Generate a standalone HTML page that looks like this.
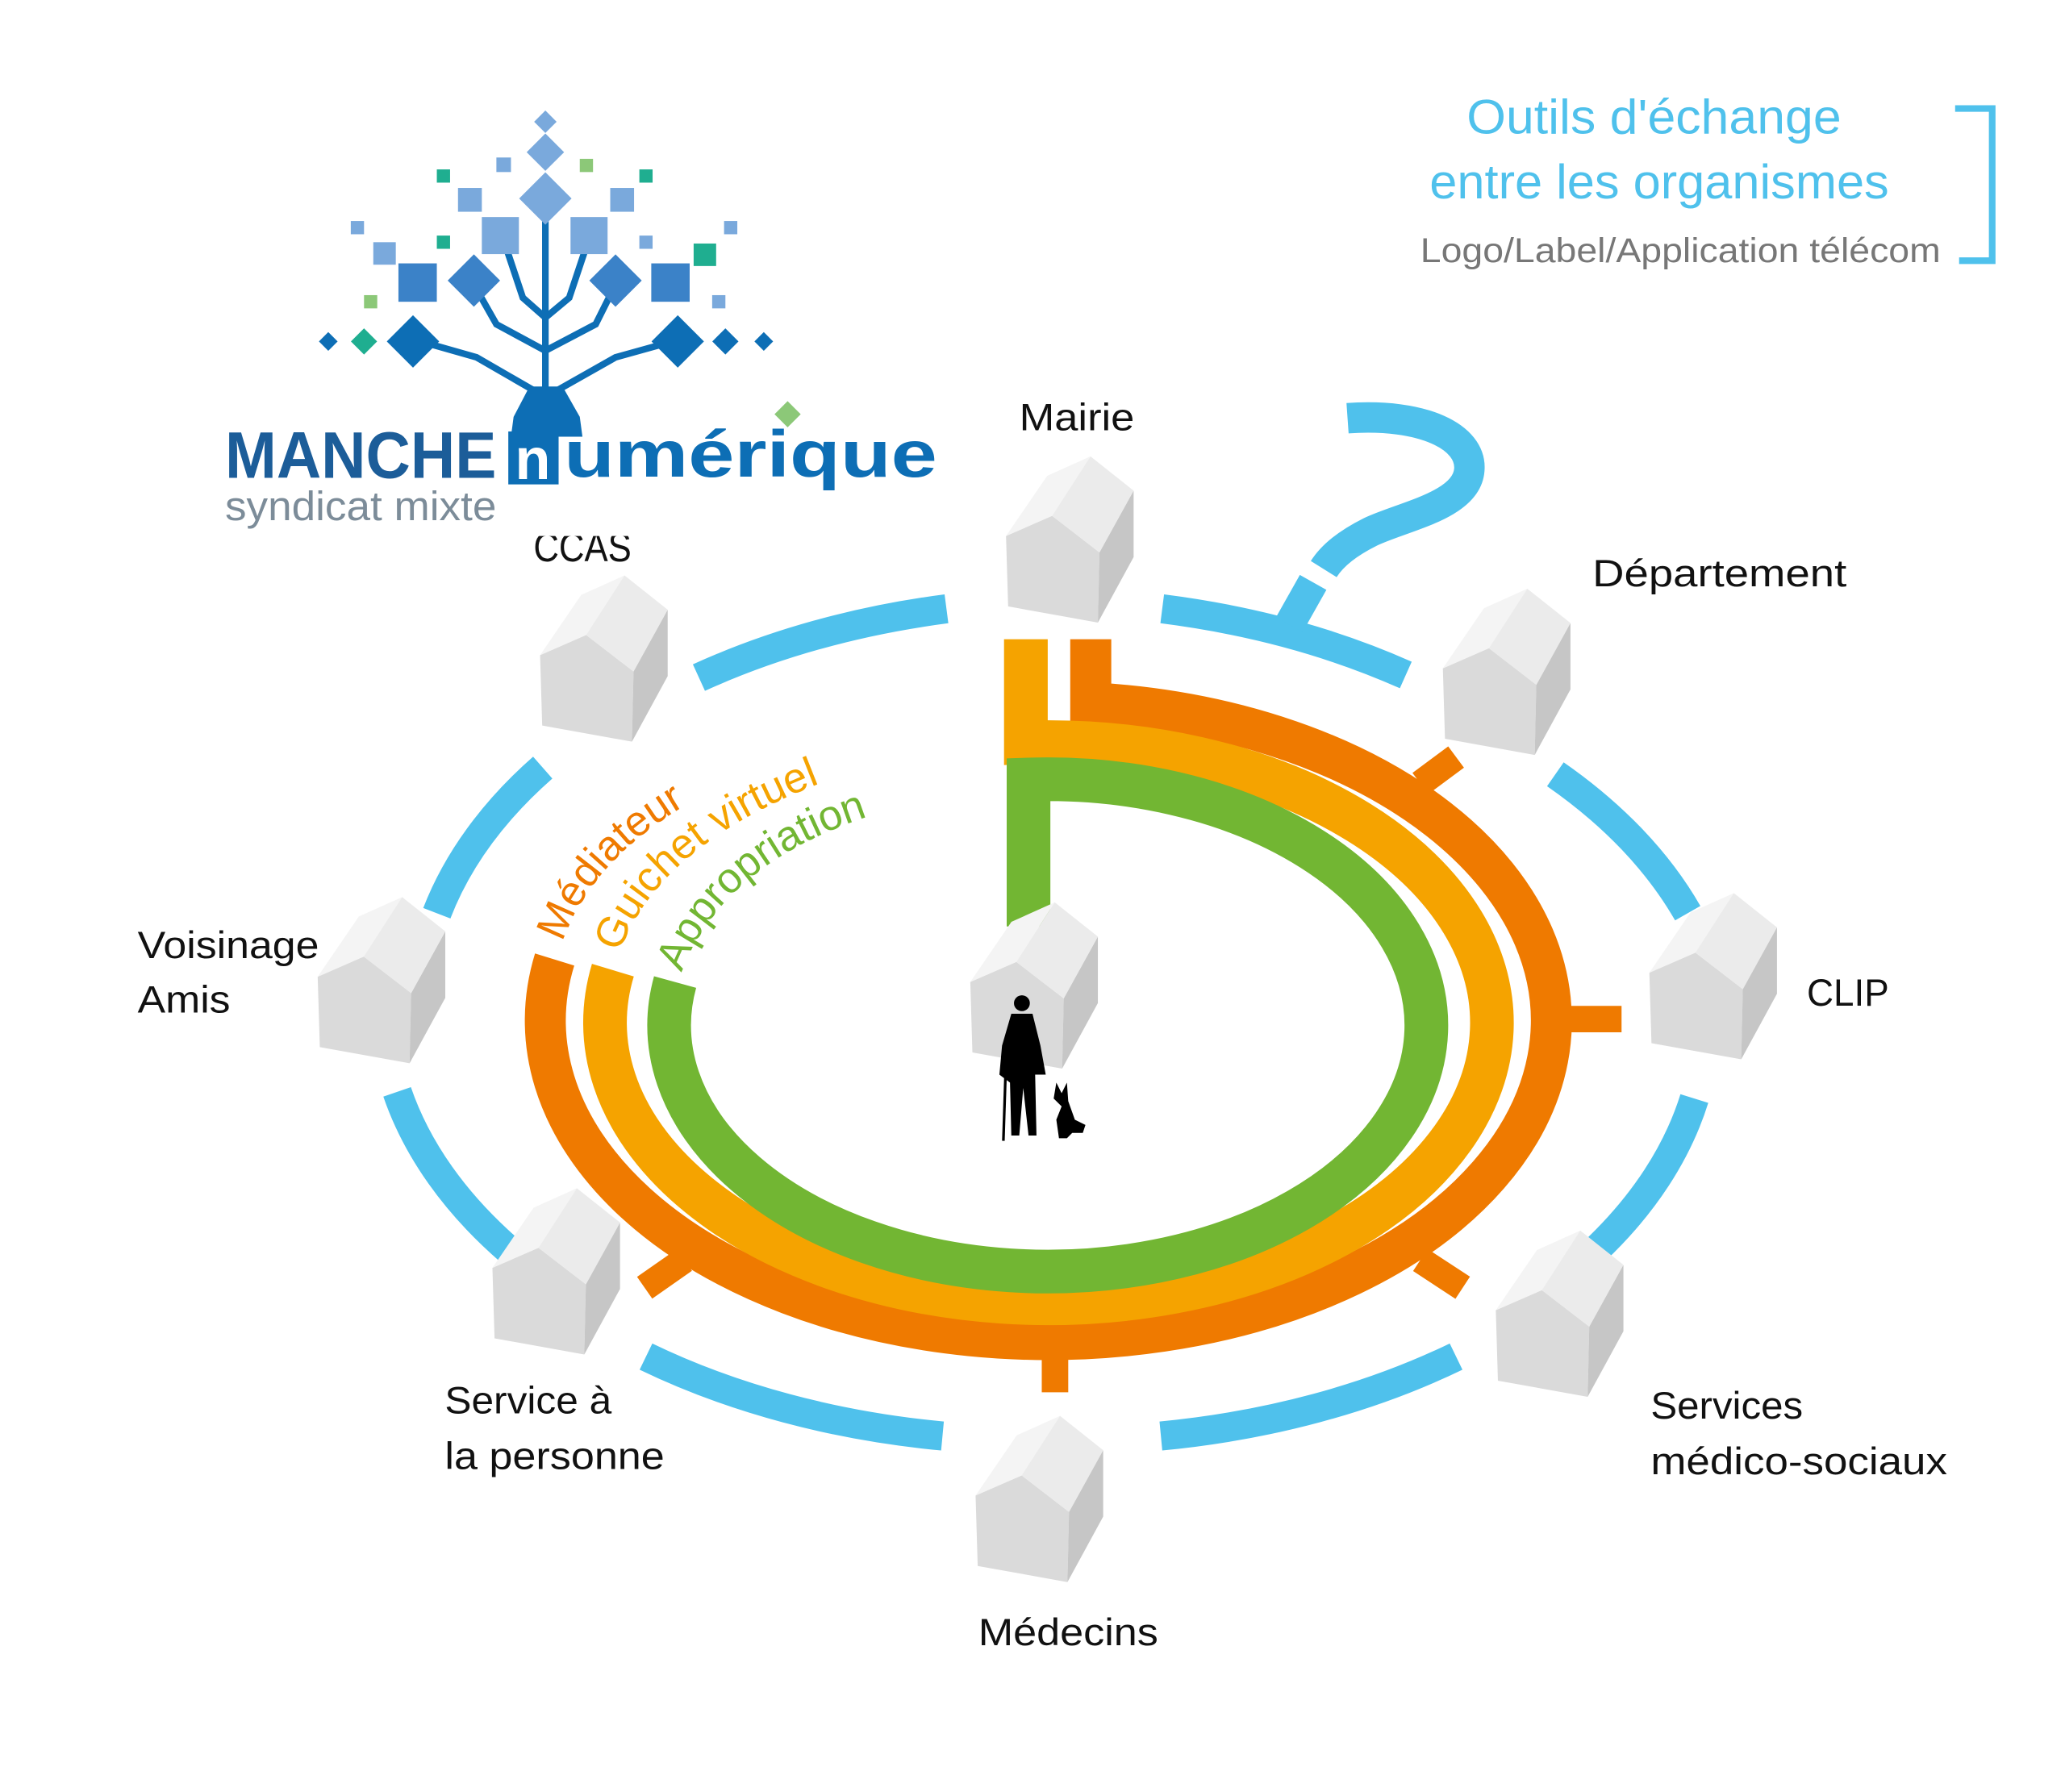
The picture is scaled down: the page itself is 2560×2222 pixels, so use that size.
<!DOCTYPE html>
<html><head><meta charset="utf-8"><style>
html,body{margin:0;padding:0;background:#fff;}
svg{display:block;}
text{font-family:"Liberation Sans",sans-serif;}
</style></head><body>
<svg width="2560" height="2222" viewBox="0 0 1560 1354" preserveAspectRatio="none" xmlns="http://www.w3.org/2000/svg">
<defs>
<g id="house">
<polygon points="0,0 34.8,-15.2 70.6,12.4 69.4,65.4 1.6,53.2" fill="#dadada"/>
<polygon points="70.6,12.4 96.4,-34.3 96.4,15.9 69.4,65.4" fill="#c6c6c6"/>
<polygon points="0,0 31.1,-45.5 63.8,-60.2 34.8,-15.2" fill="#f4f4f4"/>
<polygon points="34.8,-15.2 63.8,-60.2 96.4,-34.3 70.6,12.4" fill="#ebebeb"/>
</g>
<clipPath id="ccasclip"><rect x="380" y="405" width="120" height="40"/></clipPath>
</defs>

<g fill="none" stroke="#4fc1ec" stroke-width="22">
<path d="M528,512 A490,315 0 0 1 715,460"/>
<path d="M878,460 A490,315 0 0 1 1062,510"/>
<path d="M1175,585 A490,315 0 0 1 1275,690"/>
<path d="M1280,830 A490,315 0 0 1 1205,945"/>
<path d="M1100,1025 A490,315 0 0 1 877,1085"/>
<path d="M712,1085 A490,315 0 0 1 488,1025"/>
<path d="M385,945 A490,315 0 0 1 300,825"/>
<path d="M330,690 A490,315 0 0 1 410,580"/>
<path d="M1018,316 C1075,312 1112,330 1110,355 C1108,382 1060,390 1035,402 C1015,412 1005,422 1000,430" stroke-width="23"/>
<line x1="992" y1="440" x2="974" y2="472" stroke-width="23"/>
</g>

<g fill="none" stroke-linejoin="miter">
<path d="M824,483 L824,531 A380,241 0 1 1 419,725" stroke="#ef7a00" stroke-width="31"/>
<path d="M775,483 L775,561 A335,212 0 1 1 463,733" stroke="#f5a300" stroke-width="33"/>
<path d="M777,700 L777,589 A286,186 0 1 1 510,742" stroke="#72b633" stroke-width="33"/>
<g stroke="#ef7a00" stroke-width="20">
<line x1="1183" y1="770" x2="1225" y2="770"/>
<line x1="797" y1="1008" x2="797" y2="1052"/>
<line x1="1073" y1="592" x2="1100" y2="572"/>
<line x1="1073" y1="952" x2="1105" y2="973"/>
<line x1="517" y1="952" x2="487" y2="973"/>
</g>
</g>

<path id="p1" d="M425,712 Q450,640 545,594" fill="none"/>
<path id="p2" d="M468,720 Q500,630 650,581" fill="none"/>
<path id="p3" d="M515,735 Q550,640 695,606" fill="none"/>
<text font-size="32" fill="#ef7a00"><textPath href="#p1">Médiateur</textPath></text>
<text font-size="32" fill="#f5a300"><textPath href="#p2">Guichet virtuel</textPath></text>
<text font-size="32" fill="#72b633"><textPath href="#p3">Appropriation</textPath></text>

<use href="#house" x="760" y="405"/>
<use href="#house" x="408" y="495"/>
<use href="#house" x="1090" y="505"/>
<use href="#house" x="240" y="738"/>
<use href="#house" x="733" y="742"/>
<use href="#house" x="1246" y="735"/>
<use href="#house" x="372" y="958"/>
<use href="#house" x="1130" y="990"/>
<use href="#house" x="737" y="1130"/>

<g fill="#000">
<circle cx="772" cy="758" r="6"/>
<path d="M764,766 L780,766 L786,790 L790,812 L782,812 L783,858 L777,858 L773,822 L770,858 L764,858 L763,818 L755,812 L757,790 Z"/>
<line x1="760" y1="800" x2="758" y2="862" stroke="#000" stroke-width="2"/>
<path d="M798,818 L802,826 L806,818 L807,832 L812,846 L820,850 L818,856 L810,856 L806,860 L800,860 L798,846 L802,836 L796,830 Z"/>
</g>

<g fill="#111" font-size="29">
<text x="770" y="325" textLength="87" lengthAdjust="spacingAndGlyphs">Mairie</text>
<text x="1203" y="443" textLength="192" lengthAdjust="spacingAndGlyphs">Département</text>
<text x="104" y="724" textLength="137" lengthAdjust="spacingAndGlyphs">Voisinage</text>
<text x="104" y="765" textLength="70" lengthAdjust="spacingAndGlyphs">Amis</text>
<text x="1365" y="760" textLength="62" lengthAdjust="spacingAndGlyphs">CLIP</text>
<text x="336" y="1068" textLength="126" lengthAdjust="spacingAndGlyphs">Service à</text>
<text x="336" y="1110" textLength="166" lengthAdjust="spacingAndGlyphs">la personne</text>
<text x="1247" y="1072" textLength="115" lengthAdjust="spacingAndGlyphs">Services</text>
<text x="1247" y="1114" textLength="224" lengthAdjust="spacingAndGlyphs">médico-sociaux</text>
<text x="739" y="1243" textLength="136" lengthAdjust="spacingAndGlyphs">Médecins</text>
</g>
<g clip-path="url(#ccasclip)">
<text x="403" y="424" font-size="31" fill="#111" textLength="74" lengthAdjust="spacingAndGlyphs">CCAS</text>
</g>

<text x="1108" y="101" font-size="37" fill="#4fc1ec" textLength="283" lengthAdjust="spacingAndGlyphs">Outils d'échange</text>
<text x="1080" y="150" font-size="37" fill="#4fc1ec" textLength="347" lengthAdjust="spacingAndGlyphs">entre les organismes</text>
<text x="1073" y="198" font-size="26" fill="#777" textLength="393" lengthAdjust="spacingAndGlyphs">Logo/Label/Application télécom</text>
<polyline points="1477,82 1505,82 1505,197 1480,197" fill="none" stroke="#4fc1ec" stroke-width="5"/>

<g stroke="#0d6eb5" fill="none" stroke-width="5">
<line x1="412" y1="300" x2="412" y2="160"/>
<polyline points="412,300 360,270 318,258"/>
<polyline points="412,300 465,270 508,258"/>
<polyline points="412,265 375,245 358,215"/>
<polyline points="412,265 450,245 465,215"/>
<polyline points="412,240 395,225 380,180"/>
<polyline points="412,240 430,225 445,180"/>
</g>
<path d="M386,330 L440,330 L438,315 L425,292 L400,292 L388,315 Z" fill="#0d6eb5"/>
<g fill="#7aa9dc">
<rect x="406" y="86" width="12" height="12" transform="rotate(45 412 92)"/>
<rect x="402" y="105" width="20" height="20" transform="rotate(45 412 115)"/>
<rect x="398" y="136" width="28" height="28" transform="rotate(45 412 150)"/>
<rect x="346" y="142" width="18" height="18"/>
<rect x="375" y="119" width="11" height="11"/>
<rect x="461" y="142" width="18" height="18"/>
<rect x="364" y="164" width="28" height="28"/>
<rect x="431" y="164" width="28" height="28"/>
<rect x="282" y="183" width="17" height="17"/>
<rect x="265" y="167" width="10" height="10"/>
<rect x="483" y="178" width="10" height="10"/>
<rect x="547" y="167" width="10" height="10"/>
<rect x="538" y="223" width="10" height="10"/>
</g>
<g fill="#3b82c8">
<rect x="344" y="198" width="28" height="28" transform="rotate(45 358 212)"/>
<rect x="451" y="198" width="28" height="28" transform="rotate(45 465 212)"/>
<rect x="301" y="199" width="29" height="29"/>
<rect x="492" y="199" width="29" height="29"/>
</g>
<g fill="#0d6eb5">
<rect x="298" y="244" width="28" height="28" transform="rotate(45 312 258)"/>
<rect x="498" y="244" width="28" height="28" transform="rotate(45 512 258)"/>
<rect x="541" y="251" width="14" height="14" transform="rotate(45 548 258)"/>
<rect x="243" y="253" width="10" height="10" transform="rotate(45 248 258)"/>
<rect x="572" y="253" width="10" height="10" transform="rotate(45 577 258)"/>
</g>
<g fill="#1fae90">
<rect x="330" y="128" width="10" height="10"/>
<rect x="483" y="128" width="10" height="10"/>
<rect x="330" y="178" width="10" height="10"/>
<rect x="524" y="184" width="17" height="17"/>
<rect x="268" y="251" width="14" height="14" transform="rotate(45 275 258)"/>
</g>
<g fill="#8cc878">
<rect x="438" y="120" width="10" height="10"/>
<rect x="275" y="223" width="10" height="10"/>
<rect x="588" y="306" width="14" height="14" transform="rotate(45 595 313)"/>
</g>
<text x="170" y="361" font-size="50" font-weight="bold" fill="#1c5d99" textLength="205" lengthAdjust="spacingAndGlyphs">MANCHE</text>
<rect x="384" y="326" width="38" height="40" fill="#0d6eb5"/>
<text x="389" y="362" font-size="44" font-weight="bold" fill="#fff">n</text>
<text x="426" y="360" font-size="50" font-weight="bold" fill="#0d6eb5" textLength="282" lengthAdjust="spacingAndGlyphs">umérique</text>
<text x="170" y="393" font-size="31" fill="#7c8c99" textLength="205" lengthAdjust="spacingAndGlyphs">syndicat mixte</text>
</svg>
</body></html>
